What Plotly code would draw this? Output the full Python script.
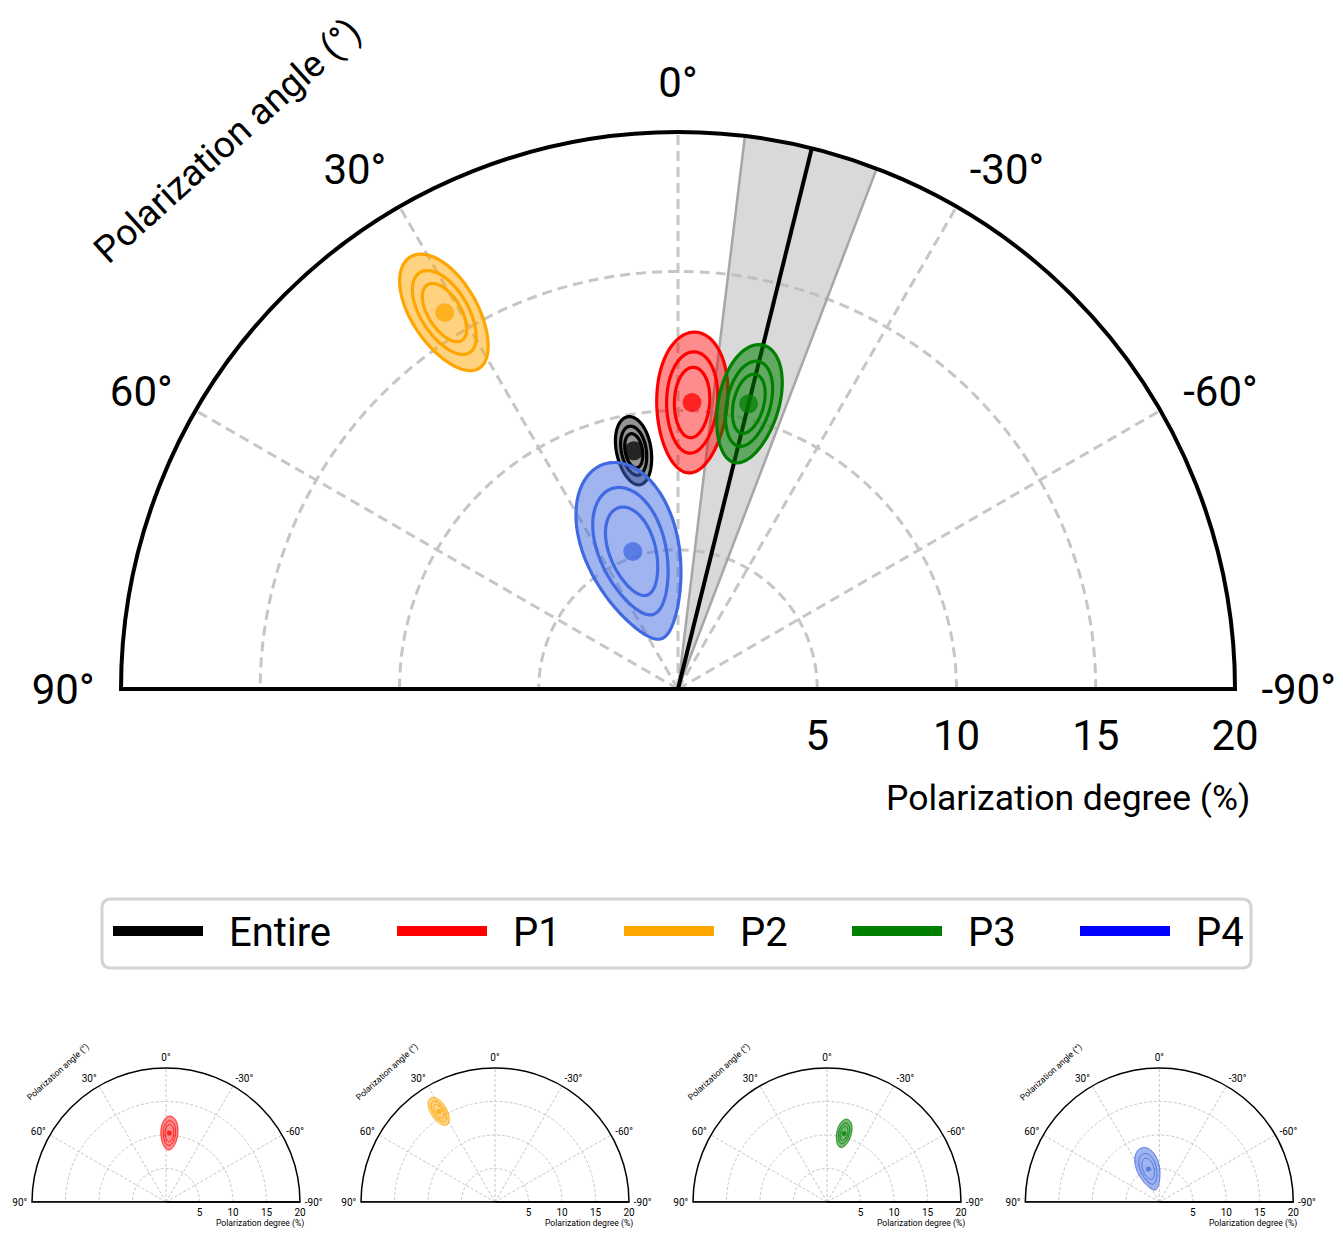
import numpy as np
import plotly.graph_objects as go

# ---------------- data ----------------
sources = ["Entire", "P1", "P2", "P3", "P4"]
pol_degree = [8.7, 10.3, 15.9, 10.55, 5.2]        # %
pol_angle = [10.5, -2.8, 31.8, -13.9, 18.2]        # deg
contour_radius = [1.24, 2.53, 2.35, 2.17, 3.3]     # outer contour radius in Q/U (%)
contour_levels = [1.0, 0.72, 0.5]
line_colors = ["black", "red", "orange", "green", "royalblue"]
fill_colors = ["rgba(0,0,0,0.42)", "rgba(255,0,0,0.45)", "rgba(255,165,0,0.5)",
               "rgba(0,128,0,0.55)", "rgba(65,105,225,0.5)"]
legend_colors = ["black", "red", "orange", "green", "blue"]

ref_angle = -13.9      # deg, reference polarization angle line
ref_angle_err = 7.0    # deg, half width of grey band

angle_ticks = [-90, -60, -30, 0, 30, 60, 90]
angle_labels = ["-90°", "-60°", "-30°", "0°", "30°", "60°", "90°"]
radial_ticks = [5, 10, 15, 20]
radial_labels = ["5", "10", "15", "20"]
r_max = 20

FONT = "Roboto, sans-serif"
PAGE_MARGIN = 8                      # default body margin of the html page
W, H = 1343 - 2 * PAGE_MARGIN, 1238 - 2 * PAGE_MARGIN


def px(x):
    return (x - PAGE_MARGIN) / W


def py(y):
    return 1 - (y - PAGE_MARGIN) / H


def contour(pd, pa, rad):
    t = np.linspace(0, 2 * np.pi, 181)
    q0 = pd * np.cos(np.radians(2 * pa))
    u0 = pd * np.sin(np.radians(2 * pa))
    q = q0 + rad * np.cos(t)
    u = u0 + rad * np.sin(t)
    r = np.hypot(q, u)
    th = 0.5 * np.degrees(np.arctan2(u, q))
    return r, th


fig = go.Figure()
shapes = []
annotations = []

panels = [
    dict(cx=678, cy=689, R=557, src=[0, 1, 2, 3, 4], band=True),
    dict(cx=166, cy=1202, R=134, src=[1], band=False),
    dict(cx=495, cy=1202, R=134, src=[2], band=False),
    dict(cx=827, cy=1202, R=134, src=[3], band=False),
    dict(cx=1159.3, cy=1202, R=134, src=[4], band=False),
]

layout_polars = {}
for pi, p in enumerate(panels):
    name = "polar" if pi == 0 else f"polar{pi + 1}"
    k = p["R"] / 557.0
    cx, cy, R = p["cx"], p["cy"], p["R"]
    main = pi == 0

    # grey band and reference line
    if p["band"]:
        arc = np.linspace(ref_angle + ref_angle_err, ref_angle - ref_angle_err, 40)
        fig.add_trace(go.Scatterpolar(
            r=[0] + [r_max] * len(arc) + [0], theta=[ref_angle] + list(arc) + [ref_angle],
            mode="lines", fill="toself", fillcolor="rgba(185,185,185,0.55)",
            line=dict(width=0, color="rgba(0,0,0,0)"), subplot=name, showlegend=False,
            hoverinfo="skip"))
        for a in (ref_angle + ref_angle_err, ref_angle - ref_angle_err):
            fig.add_trace(go.Scatterpolar(
                r=[0, r_max], theta=[a, a], mode="lines",
                line=dict(color="#a6a6a6", width=2.5), subplot=name, showlegend=False))
        fig.add_trace(go.Scatterpolar(
            r=[0, r_max], theta=[ref_angle, ref_angle], mode="lines",
            line=dict(color="black", width=4), subplot=name, showlegend=False))

    for i in p["src"]:
        for li, lev in enumerate(contour_levels):
            r, th = contour(pol_degree[i], pol_angle[i], contour_radius[i] * lev)
            fig.add_trace(go.Scatterpolar(
                r=r, theta=th, mode="lines",
                fill="toself" if li == 0 else None,
                fillcolor=fill_colors[i] if li == 0 else None,
                line=dict(color=line_colors[i], width=3.2 if main else 0.9),
                subplot=name, showlegend=False, name=sources[i]))
        fig.add_trace(go.Scatterpolar(
            r=[pol_degree[i]], theta=[pol_angle[i]], mode="markers",
            marker=dict(color=line_colors[i], size=19 if main else 5, opacity=0.75,
                        line=dict(width=0)),
            subplot=name, showlegend=False, name=sources[i]))

    # full baseline (90° to -90°)
    fig.add_trace(go.Scatterpolar(
        r=[r_max, 0, r_max], theta=[90, 90, -90], mode="lines",
        line=dict(color="black", width=4 if main else 1.5), subplot=name,
        showlegend=False, hoverinfo="skip", cliponaxis=False))

    gridw = 2.5 if main else 0.8
    griddash = "10px,6px" if main else "3px,2px"
    layout_polars[name] = dict(
        domain=dict(x=[px(cx - R), px(cx + R)], y=[py(cy), py(cy - R)]),
        sector=[0, 180], bgcolor="white",
        angularaxis=dict(
            rotation=90, direction="counterclockwise", thetaunit="degrees",
            tickmode="array", tickvals=angle_ticks, ticktext=angle_labels,
            showline=True, linecolor="black", linewidth=4 if main else 1.5,
            showgrid=True, gridcolor="#c6c6c6", gridwidth=gridw, griddash=griddash,
            ticks="outside", ticklen=16 if main else 2, tickcolor="rgba(0,0,0,0)",
            tickfont=dict(size=42 if main else 10, color="black", family=FONT)),
        radialaxis=dict(
            range=[0, r_max], angle=0, side="clockwise",
            tickmode="array", tickvals=radial_ticks, ticktext=radial_labels,
            showline=True, linecolor="black", linewidth=4 if main else 1.5,
            showgrid=True, gridcolor="#c6c6c6", gridwidth=gridw, griddash=griddash,
            ticks="outside", ticklen=9 if main else 1, tickcolor="rgba(0,0,0,0)",
            tickangle=0, tickfont=dict(size=42 if main else 10, color="black", family=FONT)),
    )

    annotations.append(dict(
        x=px(cx - 450 * k), y=py(cy - (548 if main else 540) * k), xref="paper", yref="paper",
        xanchor="center", yanchor="middle",
        text="Polarization angle (°)", textangle=-42, showarrow=False,
        font=dict(size=37 if main else 8.6, color="black", family=FONT)))
    annotations.append(dict(
        x=px(cx + 390 * k), y=py(cy + (109 if main else 90) * k), xref="paper", yref="paper",
        xanchor="center", yanchor="middle",
        text="Polarization degree (%)", showarrow=False,
        font=dict(size=35.5 if main else 8.6, color="black", family=FONT)))

# ---------------- custom legend ----------------
bx0, bx1, by0, by1, rr = 102, 1251, 899, 968, 9
path = (f"M {px(bx0 + rr)},{py(by0)} L {px(bx1 - rr)},{py(by0)} "
        f"Q {px(bx1)},{py(by0)} {px(bx1)},{py(by0 + rr)} "
        f"L {px(bx1)},{py(by1 - rr)} Q {px(bx1)},{py(by1)} {px(bx1 - rr)},{py(by1)} "
        f"L {px(bx0 + rr)},{py(by1)} Q {px(bx0)},{py(by1)} {px(bx0)},{py(by1 - rr)} "
        f"L {px(bx0)},{py(by0 + rr)} Q {px(bx0)},{py(by0)} {px(bx0 + rr)},{py(by0)} Z")
shapes.append(dict(type="path", xref="paper", yref="paper", path=path,
                   line=dict(color="#d4d4d4", width=3), fillcolor="white"))
legend_x = [113, 397, 624, 852, 1080]
for i, name in enumerate(sources):
    x0 = legend_x[i]
    shapes.append(dict(type="line", xref="paper", yref="paper",
                       x0=px(x0), x1=px(x0 + 90), y0=py(931), y1=py(931),
                       line=dict(color=legend_colors[i], width=10)))
    annotations.append(dict(x=px(x0 + 114), y=py(932), xref="paper", yref="paper",
                            xanchor="left", yanchor="middle", text=name, showarrow=False,
                            font=dict(size=40, color="black", family=FONT)))

fig.update_layout(
    width=W, height=H, margin=dict(l=0, r=0, t=0, b=0),
    paper_bgcolor="white", plot_bgcolor="white",
    showlegend=False, shapes=shapes, annotations=annotations,
    font=dict(family=FONT, color="black"),
    **layout_polars,
)

fig.write_html("out.html")
